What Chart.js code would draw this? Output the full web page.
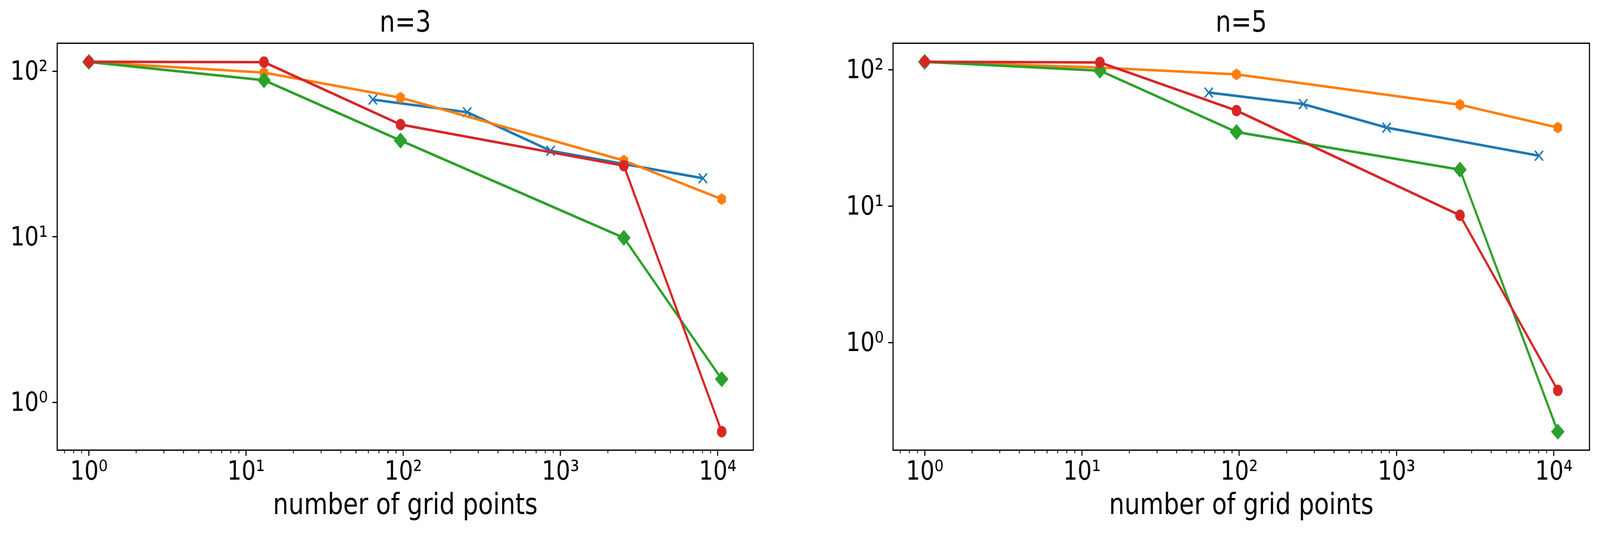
<!DOCTYPE html>
<html>
<head>
<meta charset="utf-8">
<script src="https://cdn.jsdelivr.net/npm/chart.js@4/dist/chart.umd.min.js"></script>
<style>
  html, body { margin: 0; padding: 0; background: #fff; overflow: hidden; }
  #wrap { position: relative; width: 100vw; height: 100vh; overflow: hidden; }
  canvas { position: absolute; top: 0; }
</style>
</head>
<body>
<div id="wrap">
  <canvas id="left" width="2430" height="1366"></canvas>
  <canvas id="right" width="2426" height="1366"></canvas>
</div>
<script>
// x positions (number of grid points)
const gridPoints = [1, 13, 96, 2530, 10600];
const gridPointsBlue = [64, 255, 865, 8050];

// n=3 panel
const n3Blue = [67.5, 56.6, 33.1, 22.6];
const n3Orange = [114, 98.2, 69.3, 28.9, 16.9];
const n3Green = [114, 88.4, 38.2, 9.86, 1.38];
const n3Red = [114.3, 113.7, 47.7, 26.9, 0.665];

// n=5 panel
const n5Blue = [67.9, 55.9, 37.6, 23.4];
const n5Orange = [114, 103.5, 92.3, 55.3, 37.6];
const n5Green = [114, 98.2, 34.9, 18.5, 0.223];
const n5Red = [114.2, 112.9, 50.1, 8.57, 0.447];

const xTickValues = [1, 10, 100, 1000, 10000];
const xTickLabels = ['10\u2070', '10\u00b9', '10\u00b2', '10\u00b3', '10\u2074'];
const yTickValues = [1, 10, 100];
const yTickLabels = ['10\u2070', '10\u00b9', '10\u00b2'];
const minorSubs = [2, 3, 4, 5, 6, 7, 8, 9];

const colors = { blue: '#1f77b4', orange: '#ff7f0e', green: '#2ca02c', red: '#d62728' };

Chart.defaults.font.family = "'DejaVu Sans', sans-serif";
Chart.defaults.color = '#000';

function hexagon(color) {
    const c = document.createElement('canvas');
    c.width = 34;
    c.height = 34;
    const g = c.getContext('2d');
    g.beginPath();
    for (let k = 0; k < 6; k++) {
        const a = -Math.PI / 2 + k * Math.PI / 3;
        const px = 17 + 12.5 * Math.cos(a);
        const py = 17 + 12.5 * Math.sin(a);
        if (k === 0) g.moveTo(px, py); else g.lineTo(px, py);
    }
    g.closePath();
    g.fillStyle = color;
    g.fill();
    g.lineWidth = 4.2;
    g.strokeStyle = color;
    g.stroke();
    return c;
}
const hexOrange = hexagon(colors.orange);

// log axis limits with a 5% margin on each side
function logLimits(values) {
    const lo = Math.log10(Math.min(...values));
    const hi = Math.log10(Math.max(...values));
    const m = 0.05 * (hi - lo);
    return [Math.pow(10, lo - m), Math.pow(10, hi + m)];
}

function points(xs, ys) {
    return xs.map((x, i) => ({ x: x, y: ys[i] }));
}

// box around the axes and the small ticks between decades
const frame = {
    id: 'frame',
    afterDraw(chart) {
        const a = chart.chartArea;
        const ctx = chart.ctx;
        const sx = chart.scales.x;
        ctx.save();
        ctx.strokeStyle = '#000';
        ctx.lineWidth = 2.5;
        ctx.beginPath();
        for (let k = Math.floor(Math.log10(sx.min)); k <= Math.ceil(Math.log10(sx.max)); k++) {
            minorSubs.forEach(m => {
                const v = m * Math.pow(10, k);
                if (v < sx.min || v > sx.max) return;
                const px = sx.getPixelForValue(v);
                ctx.moveTo(px, a.bottom);
                ctx.lineTo(px, a.bottom + 8.3);
            });
        }
        ctx.stroke();
        ctx.lineWidth = 3.33;
        ctx.strokeRect(a.left, a.top, a.right - a.left, a.bottom - a.top);
        ctx.restore();
    }
};

function makeChart(id, left, title, blue, orange, green, red, axisLeft, padRight) {
    const canvas = document.getElementById(id);
    const xLim = logLimits(gridPoints.concat(gridPointsBlue));
    const yLim = logLimits(blue.concat(orange, green, red));
    const chart = new Chart(canvas, {
        type: 'line',
        data: {
            datasets: [
                {
                    data: points(gridPointsBlue, blue), borderColor: colors.blue,
                    pointStyle: 'crossRot', pointRadius: 17.7,
                    pointBorderColor: colors.blue, pointBackgroundColor: colors.blue,
                    pointBorderWidth: 4.2, order: 3
                },
                {
                    data: points(gridPoints, orange), borderColor: colors.orange,
                    pointStyle: hexOrange, pointRadius: 14,
                    pointBorderColor: colors.orange, pointBackgroundColor: colors.orange,
                    order: 2
                },
                {
                    data: points(gridPoints, green), borderColor: colors.green,
                    pointStyle: 'rectRot', pointRadius: 17.5,
                    pointBorderColor: colors.green, pointBackgroundColor: colors.green,
                    pointBorderWidth: 4.2, order: 1
                },
                {
                    data: points(gridPoints, red), borderColor: colors.red,
                    pointStyle: 'circle', pointRadius: 12.5,
                    pointBorderColor: colors.red, pointBackgroundColor: colors.red,
                    pointBorderWidth: 4.2, order: 0
                }
            ]
        },
        options: {
            responsive: false,
            animation: false,
            devicePixelRatio: 1,
            layout: { padding: { left: 0, top: 0, right: padRight, bottom: 0 } },
            elements: {
                line: { borderWidth: 6.5, borderJoinStyle: 'round', tension: 0, fill: false }
            },
            plugins: {
                legend: { display: false },
                tooltip: { enabled: false },
                title: {
                    display: true, text: title, fullSize: false, color: '#000',
                    font: { size: 74, weight: 'normal' },
                    padding: { top: 17, bottom: 4.8 }
                }
            },
            scales: {
                x: {
                    type: 'logarithmic', position: 'bottom', bounds: 'data',
                    min: xLim[0], max: xLim[1],
                    afterBuildTicks: s => {
                        s.min = xLim[0];
                        s.max = xLim[1];
                        s.ticks = xTickValues.map(v => ({ value: v }));
                    },
                    afterFit: s => {
                        s.height = 1366 - 1151.5;
                        s.paddingLeft = 0;
                        s.paddingRight = 0;
                    },
                    grid: { drawOnChartArea: false, drawTicks: true, tickLength: 14.6, tickWidth: 3.3, tickColor: '#000' },
                    border: { display: false },
                    ticks: {
                        font: { size: 68 }, color: '#000', padding: 2,
                        maxRotation: 0, autoSkip: false,
                        callback: (v, i) => xTickLabels[i]
                    },
                    title: {
                        display: true, text: 'number of grid points', color: '#000',
                        font: { size: 74 }, padding: { top: 0, bottom: 25.5 }
                    }
                },
                y: {
                    type: 'logarithmic', position: 'left', bounds: 'data',
                    min: yLim[0], max: yLim[1],
                    afterBuildTicks: s => {
                        s.min = yLim[0];
                        s.max = yLim[1];
                        s.ticks = yTickValues.map(v => ({ value: v }));
                    },
                    afterFit: s => {
                        s.width = axisLeft;
                        s.paddingTop = 0;
                        s.paddingBottom = 0;
                    },
                    grid: { drawOnChartArea: false, drawTicks: true, tickLength: 14.6, tickWidth: 3.3, tickColor: '#000' },
                    border: { display: false },
                    ticks: {
                        font: { size: 68 }, color: '#000', padding: 14, labelOffset: 4,
                        autoSkip: false,
                        callback: (v, i) => yTickLabels[i]
                    }
                }
            }
        },
        plugins: [frame]
    });
    // drawn in picture pixels (4856 x 1366), shown stretched over the whole viewport
    canvas.style.left = (left / 4856 * 100) + 'vw';
    canvas.style.width = (canvas.width / 4856 * 100) + 'vw';
    canvas.style.height = '100vh';
    return chart;
}

makeChart('left', 0, 'n=3', n3Blue, n3Orange, n3Green, n3Red, 173.6, 2430 - 2286);
makeChart('right', 2430, 'n=5', n5Blue, n5Orange, n5Green, n5Red, 2710 - 2430, 2426 - (4824 - 2430));
</script>
</body>
</html>
